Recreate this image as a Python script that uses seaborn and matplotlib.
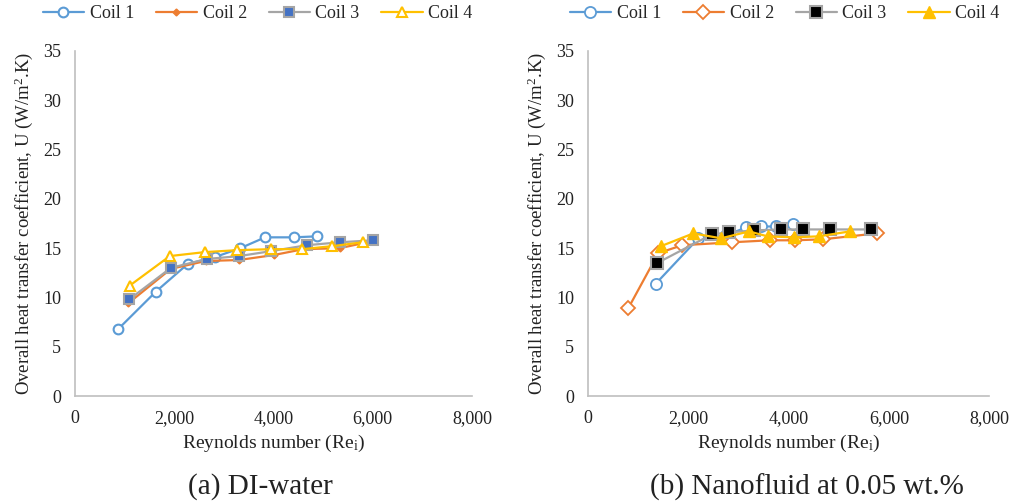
import matplotlib
matplotlib.use("Agg")
import matplotlib.pyplot as plt
import seaborn as sns
import numpy as np
import pandas as pd

# (a) DI-water
re_a_c1 = [870, 1630, 2270, 2820, 3330, 3830, 4410, 4870]
u_a_c1 = [6.8, 10.6, 13.4, 14.1, 15.0, 16.1, 16.1, 16.2]
re_a_c2 = [1070, 1930, 2630, 3300, 4000, 4600, 5330, 5800, 6010]
u_a_c2 = [9.4, 12.9, 13.7, 13.8, 14.3, 14.9, 15.0, 15.5, 15.7]
re_a_c3 = [1090, 1930, 2650, 3310, 3950, 4670, 5340, 6010]
u_a_c3 = [9.8, 13.0, 13.9, 14.2, 14.7, 15.3, 15.6, 15.8]
re_a_c4 = [1100, 1910, 2610, 3270, 3950, 4580, 5170, 5800]
u_a_c4 = [11.2, 14.2, 14.6, 14.8, 14.9, 14.9, 15.2, 15.6]

# (b) Nanofluid at 0.05 wt.%
re_b_c1 = [1350, 2200, 2750, 3150, 3450, 3750, 4080]
u_b_c1 = [11.4, 16.0, 16.3, 17.1, 17.2, 17.2, 17.5]
re_b_c2 = [800, 1400, 1880, 2880, 3620, 4130, 4680, 5760]
u_b_c2 = [8.9, 14.5, 15.3, 15.6, 15.8, 15.8, 15.9, 16.5]
re_b_c3 = [1380, 2470, 2820, 3300, 3850, 4280, 4830, 5650]
u_b_c3 = [13.5, 16.4, 16.6, 16.8, 16.9, 16.9, 16.9, 16.9]
re_b_c4 = [1450, 2100, 2650, 3210, 3580, 4100, 4600, 5220]
u_b_c4 = [15.2, 16.5, 16.0, 16.7, 16.2, 16.1, 16.2, 16.7]

labels = ["Coil 1", "Coil 2", "Coil 3", "Coil 4"]
subtitles = ["(a) DI-water", "(b) Nanofluid at 0.05 wt.%"]

BLUE = "#5B9BD5"
ORANGE = "#ED7D31"
GRAY = "#A5A5A5"
YELLOW = "#FFC000"
AXCOL = "#BFBFBF"

sns.set_theme(style="white")
plt.rcParams["font.family"] = ["Liberation Serif", "DejaVu Serif"]
plt.rcParams["mathtext.fontset"] = "custom"
plt.rcParams["mathtext.rm"] = "Liberation Serif"
plt.rcParams["mathtext.it"] = "Liberation Serif:italic"

styles_a = [
    dict(color=BLUE, marker="o", markerfacecolor="white", markeredgecolor=BLUE, markersize=7, markeredgewidth=1.5),
    dict(color=ORANGE, marker="D", markerfacecolor=ORANGE, markeredgecolor=ORANGE, markersize=3.5, markeredgewidth=1),
    dict(color=GRAY, marker="s", markerfacecolor="#4472C4", markeredgecolor=GRAY, markersize=7, markeredgewidth=1.5),
    dict(color=YELLOW, marker="^", markerfacecolor="white", markeredgecolor=YELLOW, markersize=7, markeredgewidth=1.5),
]
styles_b = [
    dict(color=BLUE, marker="o", markerfacecolor="white", markeredgecolor=BLUE, markersize=8, markeredgewidth=1.3),
    dict(color=ORANGE, marker="D", markerfacecolor="white", markeredgecolor=ORANGE, markersize=7, markeredgewidth=1.3),
    dict(color=GRAY, marker="s", markerfacecolor="black", markeredgecolor=GRAY, markersize=8, markeredgewidth=1.5),
    dict(color=YELLOW, marker="^", markerfacecolor=YELLOW, markeredgecolor=YELLOW, markersize=8, markeredgewidth=1),
]

data_a = [(re_a_c1, u_a_c1), (re_a_c2, u_a_c2), (re_a_c3, u_a_c3), (re_a_c4, u_a_c4)]
data_b = [(re_b_c1, u_b_c1), (re_b_c2, u_b_c2), (re_b_c3, u_b_c3), (re_b_c4, u_b_c4)]

fig = plt.figure(figsize=(10.14, 5.04), dpi=100)
ax_a = fig.add_axes([0.074, 0.214, 0.3915, 0.685])
ax_b = fig.add_axes([0.580, 0.214, 0.3955, 0.685])

panels = [(ax_a, data_a, styles_a, subtitles[0], 0.257, 0.46),
          (ax_b, data_b, styles_b, subtitles[1], 0.796, 0.49)]
for ax, data, styles, sub, sub_x, leg_x in panels:
    for (re, u), st, lab in zip(data, styles, labels):
        sns.lineplot(x=re, y=u, ax=ax, sort=False, estimator=None, linewidth=1.6, label=lab, **st)
    ax.set_xlim(0, 8000)
    ax.set_ylim(0, 35)
    ax.set_xticks(np.arange(0, 8001, 2000))
    ax.set_yticks(np.arange(0, 36, 5))
    ax.xaxis.set_major_formatter(matplotlib.ticker.FuncFormatter(lambda v, p: f"{int(v):,}"))
    for s in ["top", "right"]:
        ax.spines[s].set_visible(False)
    for s in ["left", "bottom"]:
        ax.spines[s].set_color(AXCOL)
        ax.spines[s].set_linewidth(1.2)
    ax.tick_params(axis="both", direction="inout", length=8, width=1.2, color=AXCOL,
                   labelsize=13, labelcolor="#222222", pad=6)
    ax.set_xlabel("Reynolds number (Re$_\\mathrm{i}$)", fontsize=14, color="#222222", labelpad=4)
    ax.set_ylabel("Overall heat transfer coefficient, U (W/m$^\\mathrm{2}$.K)", fontsize=13.5,
                  color="#222222", labelpad=6)
    ax.legend(loc="center", bbox_to_anchor=(leg_x, 1.107), ncol=4, frameon=False, fontsize=13,
              handlelength=2.3, columnspacing=1.2, handletextpad=0.3, borderaxespad=0)
    fig.text(sub_x, 0.034, sub, ha="center", va="center", fontsize=21, color="#222222")

fig.savefig("out.png", dpi=100)
